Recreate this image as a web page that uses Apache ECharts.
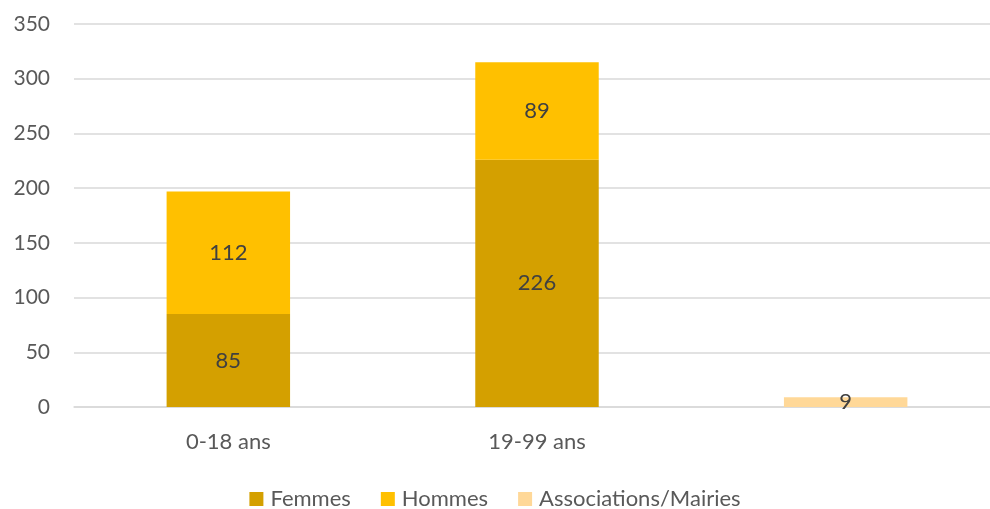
<!DOCTYPE html>
<html><head><meta charset="utf-8">
<script src="https://cdn.jsdelivr.net/npm/echarts@6/dist/echarts.min.js"></script>
<style>html,body{margin:0;padding:0;background:#fff}#c{width:990px;height:509px}</style>
</head><body><div id="c"></div>
<script>
const categories = ['0-18 ans', '19-99 ans', ''];
const femmes = [85, 226, null];
const hommes = [112, 89, null];
const associations = [null, null, 9];
const yTicks = {min: 0, max: 350, interval: 50};

const font = 'Lato, "Open Sans", sans-serif';
const lbl = {show: true, position: 'inside', color: '#404040', fontSize: 22, fontFamily: font};
const chart = echarts.init(document.getElementById('c'));
chart.setOption({
  animation: false,
  grid: {left: 74, width: 926, top: 24, bottom: 102, outerBoundsMode: 'none', containLabel: false},
  legend: {
    top: 483, left: 'center', itemWidth: 14, itemHeight: 14, itemGap: 30,
    icon: 'rect',
    textStyle: {color: '#595959', fontSize: 22, fontFamily: font, padding: [0, 0, 0, 2]},
    data: ['Femmes', 'Hommes', 'Associations/Mairies']
  },
  xAxis: {
    type: 'category', data: categories,
    axisLine: {lineStyle: {color: '#d9d9d9', width: 1.5}},
    axisTick: {show: false},
    axisLabel: {color: '#595959', fontSize: 22, fontFamily: font, margin: 24}
  },
  yAxis: {
    type: 'value', min: yTicks.min, max: yTicks.max, interval: yTicks.interval,
    axisLine: {show: false}, axisTick: {show: false},
    splitLine: {lineStyle: {color: '#d9d9d9', width: 1.5}},
    axisLabel: {color: '#595959', fontSize: 21, fontFamily: font, margin: 24}
  },
  series: [
    {name: 'Femmes', type: 'bar', stack: 't', data: femmes, barWidth: '40%',
     itemStyle: {color: '#D4A000'}, label: lbl},
    {name: 'Hommes', type: 'bar', stack: 't', data: hommes, barWidth: '40%',
     itemStyle: {color: '#FFC000'}, label: lbl},
    {name: 'Associations/Mairies', type: 'bar', stack: 't', data: associations, barWidth: '40%',
     itemStyle: {color: '#FFD898'}, label: lbl}
  ]
});
</script></body></html>
